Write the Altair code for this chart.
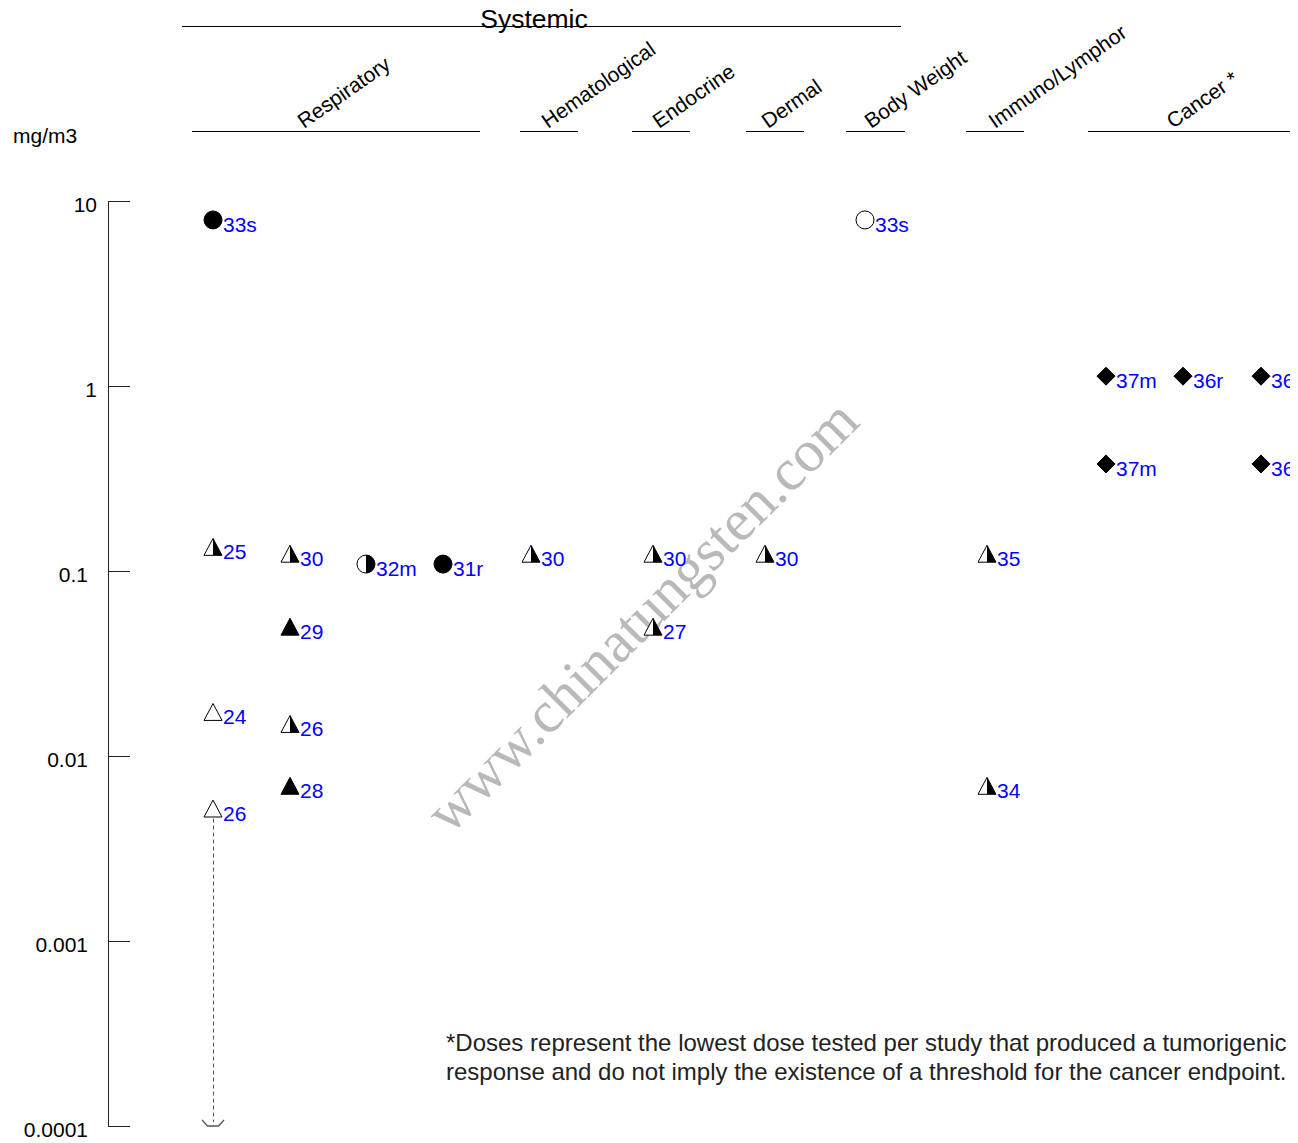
import altair as alt
import pandas as pd

FONT = "Liberation Sans, Arial, Helvetica, sans-serif"

# ---------------- data ----------------
endpoint = (["Respiratory"] * 10
            + ["Hematological", "Endocrine", "Endocrine", "Dermal", "Body Weight",
               "Immuno/Lymphor", "Immuno/Lymphor"]
            + ["Cancer *"] * 5)
column = [0, 0, 0, 0, 1, 1, 1, 1, 2, 3,
          0, 0, 0, 0, 0, 0, 0,
          0, 0, 1, 2, 2]
dose = [7.9, 0.135, 0.0173, 0.0052, 0.124, 0.050, 0.0149, 0.0069, 0.109, 0.109,
        0.124, 0.124, 0.050, 0.124, 7.9, 0.124, 0.0069,
        1.13, 0.379, 1.13, 1.13, 0.379]
study = ["33s", "25", "24", "26", "30", "29", "26", "28", "32m", "31r",
         "30", "30", "27", "30", "33s", "35", "34",
         "37m", "37m", "36r", "36r", "36r"]
marker = ["circle", "triangle", "triangle", "triangle", "triangle", "triangle", "triangle",
          "triangle", "circle", "circle",
          "triangle", "triangle", "triangle", "triangle", "circle", "triangle", "triangle",
          "diamond", "diamond", "diamond", "diamond", "diamond"]
fill = ["filled", "half", "open", "open", "half", "filled", "half", "filled", "half", "filled",
        "half", "half", "half", "half", "open", "half", "half",
        "filled", "filled", "filled", "filled", "filled"]
extends_below = [False, False, False, True] + [False] * 18

categories = ["Respiratory", "Hematological", "Endocrine", "Dermal", "Body Weight",
              "Immuno/Lymphor", "Cancer *"]
group_title = "Systemic"
unit_label = "mg/m3"
y_ticks = [10, 1, 0.1, 0.01, 0.001, 0.0001]
y_tick_labels = ["10", "1", "0.1", "0.01", "0.001", "0.0001"]
footnote = ["*Doses represent the lowest dose tested per study that produced a tumorigenic",
            "response and do not imply the existence of a threshold for the cancer endpoint."]
watermark = "www.chinatungsten.com"

# ---------------- layout ----------------
PLOT_W, PLOT_H = 1182, 925
COL_X = {"Respiratory": [105, 182, 258, 335], "Hematological": [423], "Endocrine": [545],
         "Dermal": [657], "Body Weight": [757], "Immuno/Lymphor": [879],
         "Cancer *": [998, 1075, 1153]}
HEAD_SPAN = {"Respiratory": (84, 372), "Hematological": (412, 470), "Endocrine": (524, 582),
             "Dermal": (638, 696), "Body Weight": (738, 797), "Immuno/Lymphor": (858, 916),
             "Cancer *": (980, 1190)}
HEAD_LABEL_X = {"Respiratory": 196, "Hematological": 440, "Endocrine": 551, "Dermal": 660,
                "Body Weight": 763, "Immuno/Lymphor": 887, "Cancer *": 1065}
GROUP_SPAN = (74, 793)
GROUP_LABEL_X = 426
FOOT_X, FOOT_Y = 338, [850, 879]

TRI = "M0,-0.94L1,0.94L-1,0.94Z"
TRI_RIGHT = "M0,-0.94L1,0.94L0,0.94Z"
CIRC_RIGHT = "M0,-1C0.552,-1,1,-0.552,1,0C1,0.552,0.552,1,0,1Z"
ARROW_HEAD = "M-1,-0.55L-0.5,0L0.5,0L1,-0.55"

df = pd.DataFrame({"endpoint": endpoint, "column": column, "dose": dose, "study": study,
                   "marker": marker, "fill": fill, "below": extends_below})
df["x"] = [COL_X[e][c] for e, c in zip(df["endpoint"], df["column"])]
df["floor"] = y_ticks[-1]

head = pd.DataFrame({"category": categories})
head["x0"] = [HEAD_SPAN[c][0] for c in categories]
head["x1"] = [HEAD_SPAN[c][1] for c in categories]
head["lx"] = [HEAD_LABEL_X[c] for c in categories]

tick_df = pd.DataFrame({"dose": y_ticks, "label": y_tick_labels})

xs = alt.Scale(domain=[0, PLOT_W], nice=False, zero=False)
ys = alt.Scale(type="log", domain=[y_ticks[-1], y_ticks[0]], nice=False)
yaxis = alt.Axis(values=y_ticks, ticks=False, grid=False, domain=True, labels=False,
                 domainColor="#222", domainWidth=1, title=None)
X = alt.X("x:Q", scale=xs, axis=None)
Y = alt.Y("dose:Q", scale=ys, axis=yaxis)
FILL = alt.Fill("fill:N", scale=alt.Scale(domain=["filled", "half", "open"],
                                          range=["black", "white", "white"]), legend=None)

base = alt.Chart(df)

wm = alt.Chart(pd.DataFrame({"t": [watermark], "x": [535]})).mark_text(
    angle=315, font="Liberation Serif, Times New Roman, serif", fontSize=59,
    color="#a8a8a8", opacity=0.8, align="center", baseline="middle"
).encode(x=X, y=alt.value(416), text="t:N")

ticks = alt.Chart(tick_df).mark_rule(color="#222", strokeWidth=1, yOffset=0.5).encode(
    y=Y, x=alt.value(0), x2=alt.value(22))
tick_lab_int = alt.Chart(tick_df).transform_filter("datum.dose >= 1").mark_text(
    align="right", baseline="middle", dy=5, fontSize=21, font=FONT, color="black"
).encode(y=Y, x=alt.value(-11), text="label:N")
tick_lab_dec = alt.Chart(tick_df).transform_filter("datum.dose < 1").mark_text(
    align="right", baseline="middle", dy=5, fontSize=21, font=FONT, color="black"
).encode(y=Y, x=alt.value(-20), text="label:N")

head_rules = alt.Chart(head).mark_rule(color="black", strokeWidth=1).encode(
    x=alt.X("x0:Q", scale=xs, axis=None), x2="x1:Q", y=alt.value(-69.5))
head_text = alt.Chart(head).mark_text(
    angle=325, align="left", baseline="alphabetic", fontSize=21, font=FONT, color="black"
).encode(x=alt.X("lx:Q", scale=xs, axis=None), y=alt.value(-72), text="category:N")

grp = pd.DataFrame({"t": [group_title], "x0": [GROUP_SPAN[0]], "x1": [GROUP_SPAN[1]],
                    "lx": [GROUP_LABEL_X]})
grp_rule = alt.Chart(grp).mark_rule(color="black", strokeWidth=1).encode(
    x=alt.X("x0:Q", scale=xs, axis=None), x2="x1:Q", y=alt.value(-174.5))
grp_text = alt.Chart(grp).mark_text(
    align="center", baseline="alphabetic", fontSize=26.5, font=FONT, color="black"
).encode(x=alt.X("lx:Q", scale=xs, axis=None), y=alt.value(-173), text="t:N")

unit = alt.Chart(pd.DataFrame({"t": [unit_label]})).mark_text(
    align="left", baseline="alphabetic", fontSize=21, font=FONT, color="black"
).encode(x=alt.value(-95), y=alt.value(-58), text="t:N")

arrow_df = base.transform_filter("datum.below")
arrow_line = arrow_df.mark_rule(strokeDash=[4, 3], color="#555", strokeWidth=1,
                                yOffset=10, y2Offset=-4, xOffset=0.5).encode(
    x=X, y=Y, y2="floor:Q")
arrow_head = arrow_df.mark_point(shape=ARROW_HEAD, filled=False, size=484, stroke="#555",
                                 strokeWidth=1.3, opacity=1).encode(
    x=X, y=alt.Y("floor:Q", scale=ys, axis=yaxis))

tri = base.transform_filter("datum.marker == 'triangle'").mark_point(
    shape=TRI, filled=True, size=324, stroke="black", strokeWidth=1, opacity=1
).encode(x=X, y=Y, fill=FILL)
circ = base.transform_filter("datum.marker == 'circle'").mark_point(
    shape="circle", filled=True, size=324, stroke="black", strokeWidth=1, opacity=1
).encode(x=X, y=Y, fill=FILL)
dia = base.transform_filter("datum.marker == 'diamond'").mark_point(
    shape="diamond", filled=True, size=324, stroke="black", strokeWidth=1, opacity=1
).encode(x=X, y=Y, fill=FILL)
tri_half = base.transform_filter("datum.marker == 'triangle' && datum.fill == 'half'").mark_point(
    shape=TRI_RIGHT, filled=True, size=324, color="black", strokeWidth=0, opacity=1
).encode(x=X, y=Y)
circ_half = base.transform_filter("datum.marker == 'circle' && datum.fill == 'half'").mark_point(
    shape=CIRC_RIGHT, filled=True, size=324, color="black", strokeWidth=0, opacity=1
).encode(x=X, y=Y)

labels = base.mark_text(align="left", baseline="alphabetic", dx=10, dy=12, fontSize=21,
                        font=FONT, color="#0000FF").encode(x=X, y=Y, text="study:N")

foot_layers = [
    alt.Chart(pd.DataFrame({"t": [line], "x": [FOOT_X]})).mark_text(
        align="left", baseline="alphabetic", fontSize=24, font=FONT, color="#222"
    ).encode(x=X, y=alt.value(fy), text="t:N")
    for line, fy in zip(footnote, FOOT_Y)
]

chart = alt.layer(
    wm, ticks, tick_lab_int, tick_lab_dec, head_rules, head_text, grp_rule, grp_text, unit,
    arrow_line, arrow_head, tri, circ, dia, tri_half, circ_half, labels, *foot_layers
).properties(
    width=PLOT_W, height=PLOT_H,
    autosize=alt.AutoSizeParams(type="none"),
    padding={"left": 100, "top": 193, "right": 0, "bottom": 16},
    background="white",
).configure_view(stroke=None)

chart.save("out.html", embed_options={"renderer": "svg", "actions": False})
